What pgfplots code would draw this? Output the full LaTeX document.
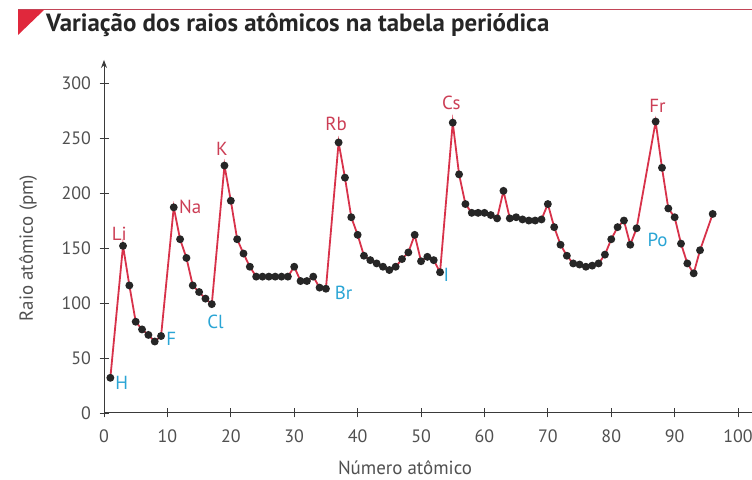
\documentclass[border=0pt]{standalone}
\usepackage{fontspec}
\setmainfont{PT Sans}
\usepackage{pgfplots}
\pgfplotsset{compat=1.18}
\usetikzlibrary{arrows.meta}
\definecolor{linered}{HTML}{D8324A}
\definecolor{labred}{HTML}{CC3E55}
\definecolor{labcyan}{HTML}{2AA5D5}
\definecolor{axgray}{HTML}{3A3A3A}
\definecolor{txtgray}{HTML}{505050}
\definecolor{trired}{HTML}{E0283C}
\begin{document}
\begin{tikzpicture}[x=1bp,y=1bp]
\path[use as bounding box] (0,0) rectangle (752,480);
\fill[white] (0,0) rectangle (752,480);
\draw[linered!75!gray, line width=1.5bp] (18,470.5) -- (752,470.5);
\fill[trired] (18,470) -- (44,470) -- (18,445) -- cycle;
\node[anchor=base west, inner sep=0pt, font=\fontsize{25}{27}\selectfont\bfseries, text=black!85] at (46,448) {Variação dos raios atômicos na tabela periódica};
\node[rotate=90, font=\fontsize{19}{19}\selectfont, text=txtgray] at (28,232) {Raio atômico (pm)};
\node[font=\fontsize{19}{19}\selectfont, text=txtgray] at (405,12) {Número atômico};
\begin{axis}[
  at={(104bp,67bp)}, anchor=south west, scale only axis,
  width=648bp, height=353bp,
  xmin=0, xmax=102.2, ymin=0, ymax=321,
  axis x line=bottom, axis y line=left,
  axis line style={axgray, line width=1bp},
  x axis line style={-},
  y axis line style={-{Stealth[length=8bp,width=6bp]}},
  xtick={0,10,...,100}, ytick={0,50,...,300},
  tick align=center, major tick length=9bp,
  tick style={axgray, line width=0.8bp},
  ticklabel style={font=\fontsize{18}{18}\selectfont, text=txtgray},
  xticklabel style={yshift=-9bp},
  yticklabel style={xshift=-5bp},
  /pgf/number format/assume math mode=true,
  clip=false,
]
\addplot[linered, line width=1.8bp, mark=*, mark size=3bp,
  mark options={fill=black!85, draw=black!85, solid}] table {
x y
1 32
3 152
4 116
5 83
6 76
7 71
8 65
9 70
11 187
12 158
13 141
14 116
15 110
16 104
17 99
19 225
20 193
21 158
22 145
23 133
24 124
25 124
26 124
27 124
28 124
29 124
30 133
31 120
32 120
33 124
34 114
35 113
37 246
38 214
39 178
40 162
41 143
42 139
43 136
44 133
45 130
46 133
47 140
48 146
49 162
50 138
51 142
52 139
53 128
55 264
56 217
57 190
58 182
59 182
60 182
61 180
62 177
63 202
64 177
65 178
66 176
67 175
68 175
69 176
70 190
71 169
72 153
73 143
74 136
75 135
76 133
77 134
78 136
79 144
80 158
81 169
82 175
83 153
84 168
87 265
88 223
89 186
90 178
91 154
92 136
93 127
94 148
96 181
};
\begin{scope}[every node/.style={font=\fontsize{19}{19}\selectfont}]
\node[text=labcyan] at (axis cs:2.8,27) {H};
\node[text=labred] at (axis cs:2.4,163) {Li};
\node[text=labcyan] at (axis cs:10.6,67) {F};
\node[text=labred] at (axis cs:13.6,187) {Na};
\node[text=labcyan] at (axis cs:17.6,83) {Cl};
\node[text=labred] at (axis cs:18.6,240) {K};
\node[text=labcyan] at (axis cs:37.8,109) {Br};
\node[text=labred] at (axis cs:36.6,263) {Rb};
\node[text=labcyan] at (axis cs:54.0,126) {I};
\node[text=labred] at (axis cs:54.8,282) {Cs};
\node[text=labcyan] at (axis cs:87.3,157) {Po};
\node[text=labred] at (axis cs:87.3,279) {Fr};
\end{scope}
\end{axis}
\end{tikzpicture}
\end{document}
